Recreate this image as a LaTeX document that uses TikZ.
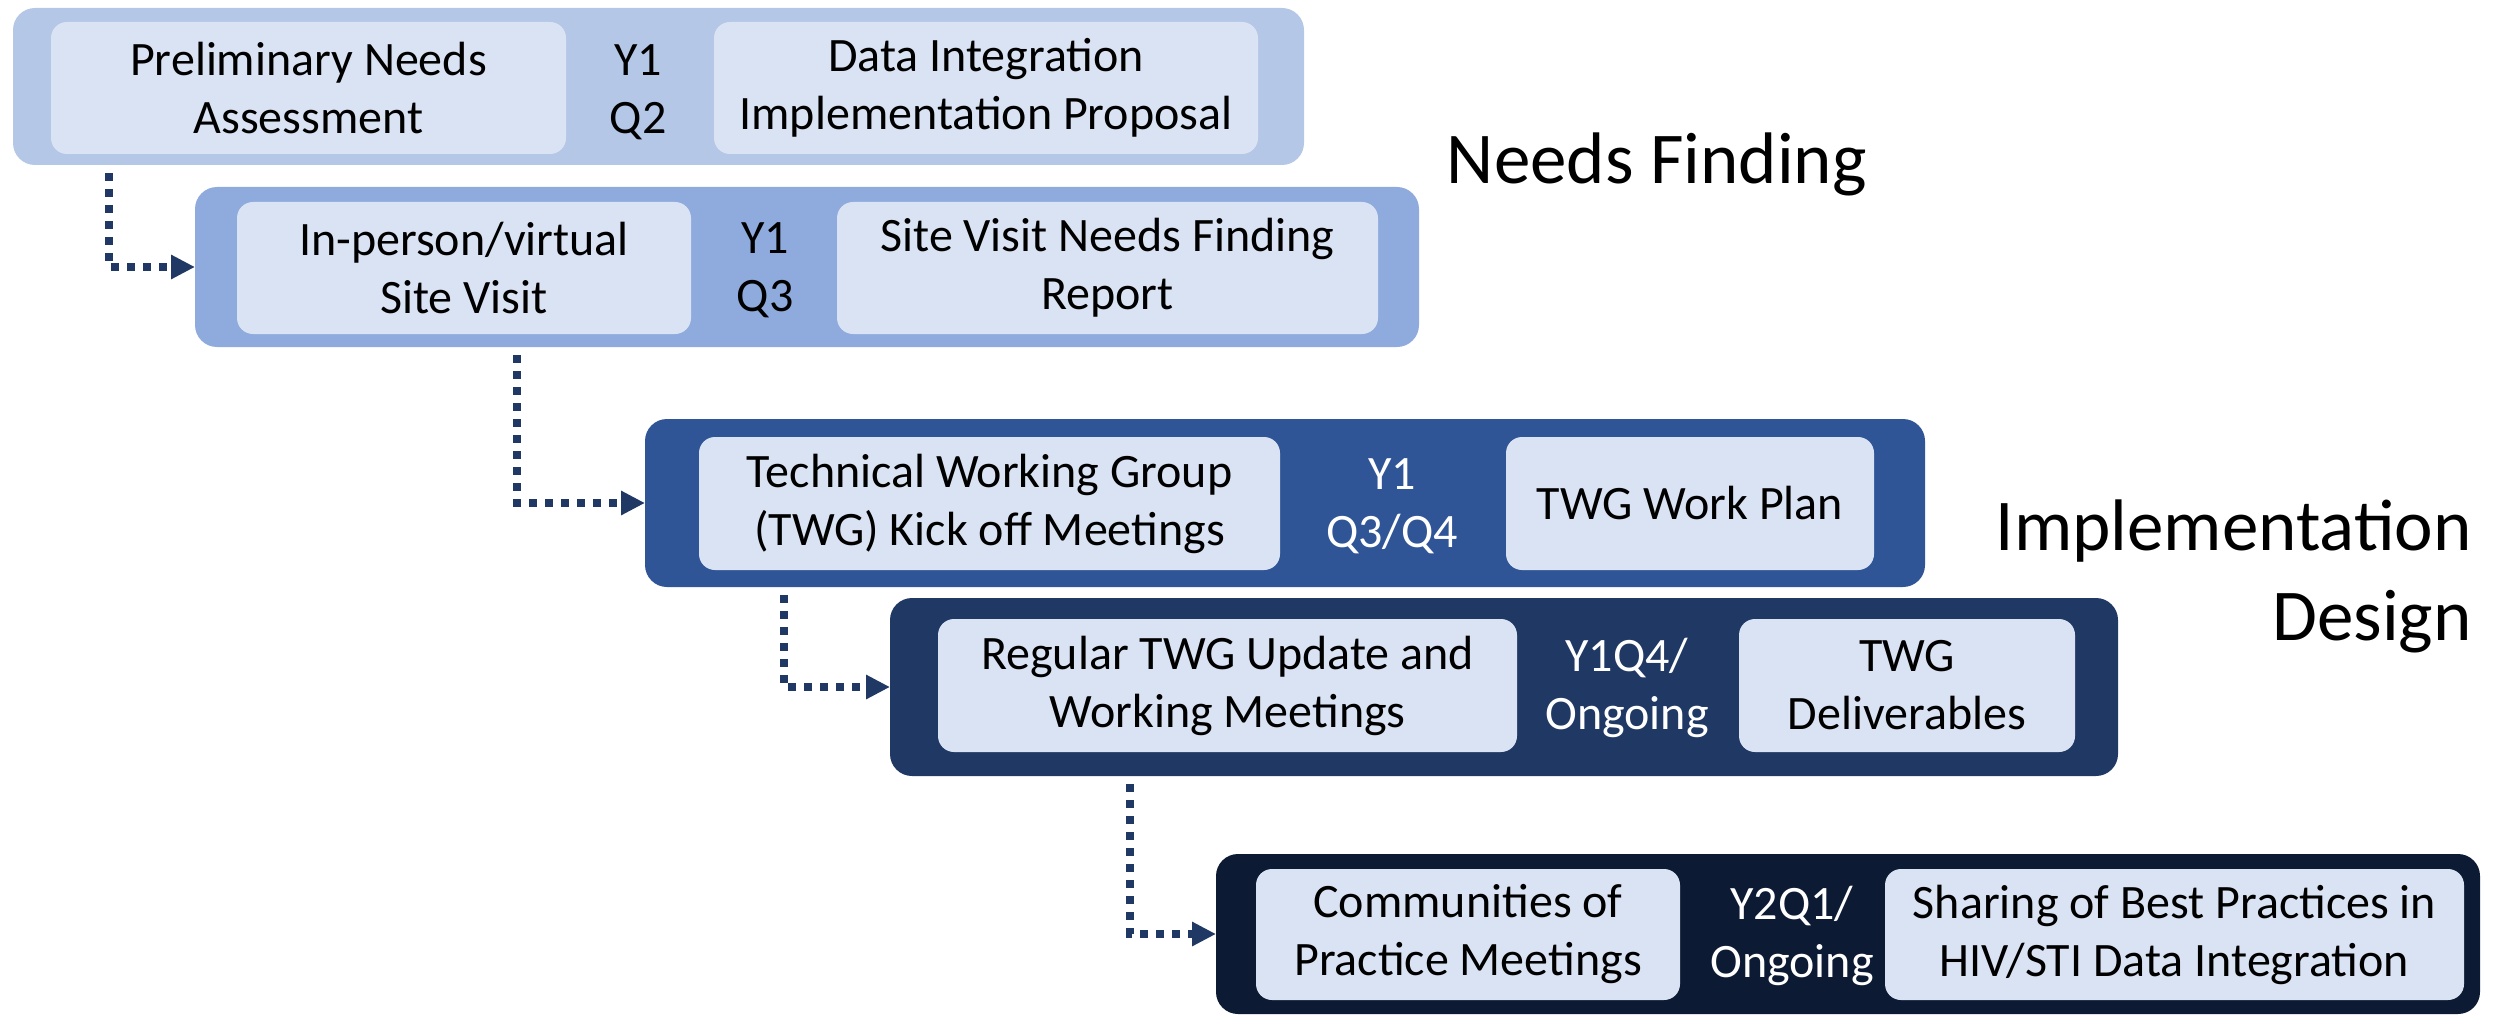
\documentclass[tikz,border=0pt]{standalone}
\usepackage{fontspec}
\setmainfont{Carlito}
\usetikzlibrary{fit,arrows.meta}
\definecolor{cA}{HTML}{B4C7E7}
\definecolor{cB}{HTML}{8FAADC}
\definecolor{cC}{HTML}{2F5597}
\definecolor{cD}{HTML}{203864}
\definecolor{cE}{HTML}{0C1A33}
\definecolor{cIn}{HTML}{DAE3F3}
\definecolor{cArr}{HTML}{203864}
\tikzset{
  outerbox/.style={rounded corners=11pt, inner sep=0pt, outer sep=0pt, draw=none},
  innerbox/.style={rounded corners=8pt, fill=cIn, inner sep=0pt, outer sep=0pt},
  boxtext/.style={align=center, inner sep=0pt, text=black,
     font=\fontsize{24pt}{29pt}\selectfont},
  qlabel/.style={align=center, inner sep=0pt, font=\fontsize{24pt}{29pt}\selectfont},
  biglabel/.style={align=right, inner sep=0pt, font=\fontsize{36.5pt}{45pt}\selectfont},
  conn/.style={draw=cArr, line width=4pt, dash pattern=on 4pt off 4pt,
     -{Triangle[length=12pt,width=11.5pt]}}
}
\begin{document}
\begin{tikzpicture}[x=0.5pt,y=-0.5pt]
\useasboundingbox (0,0) rectangle (2509,1016);
% box 1
\node[outerbox, fill=cA, fit={(13,8) (1304,165)}] (b1) {};
\node[innerbox, fit={(51,22) (566,154)}] (b1l) {};
\node[boxtext] (b1lt) at (b1l.center) {Preliminary Needs\\Assessment};
\node[qlabel] (b1q) at (638,92) {Y1\\Q2};
\node[innerbox, fit={(714,22) (1258,154)}] (b1r) {};
\node[boxtext] (b1rt) at (b1r.center) {Data Integration\\Implementation Proposal};
% box 2
\node[outerbox, fill=cB, fit={(195,187) (1419,347)}] (b2) {};
\node[innerbox, fit={(237,202) (691,334)}] (b2l) {};
\node[boxtext] (b2lt) at (b2l.center) {In-person/virtual\\Site Visit};
\node[qlabel] (b2q) at (765,270) {Y1\\Q3};
\node[innerbox, fit={(837,202) (1378,334)}] (b2r) {};
\node[boxtext] (b2rt) at (b2r.center) {Site Visit Needs Finding\\Report};
% box 3
\node[outerbox, fill=cC, fit={(645,419) (1925,587)}] (b3) {};
\node[innerbox, fit={(699,437) (1280,570)}] (b3l) {};
\node[boxtext] (b3lt) at (b3l.center) {Technical Working Group\\(TWG) Kick off Meetings};
\node[qlabel, text=white] (b3q) at (1392,506) {Y1\\Q3/Q4};
\node[innerbox, fit={(1506,437) (1874,570)}] (b3r) {};
\node[boxtext] (b3rt) at (b3r.center) {TWG Work Plan};
% box 4
\node[outerbox, fill=cD, fit={(890,598) (2118,776)}] (b4) {};
\node[innerbox, fit={(938,619) (1517,752)}] (b4l) {};
\node[boxtext] (b4lt) at (b4l.center) {Regular TWG Update and\\Working Meetings};
\node[qlabel, text=white] (b4q) at (1627,688) {Y1Q4/\\Ongoing};
\node[innerbox, fit={(1739,619) (2075,752)}] (b4r) {};
\node[boxtext] (b4rt) at (b4r.center) {TWG\\Deliverables};
% box 5
\node[outerbox, fill=cE, fit={(1216,854) (2480,1014)}] (b5) {};
\node[innerbox, fit={(1256,869) (1680,1000)}] (b5l) {};
\node[boxtext] (b5lt) at (b5l.center) {Communities of\\Practice Meetings};
\node[qlabel, text=white] (b5q) at (1792,936) {Y2Q1/\\Ongoing};
\node[innerbox, fit={(1885,869) (2464,1000)}] (b5r) {};
\node[boxtext] (b5rt) at (b5r.center) {Sharing of Best Practices in\\HIV/STI Data Integration};
% labels
\node[biglabel, anchor=east] (lab1) at (1867,164) {Needs Finding};
\node[biglabel, anchor=east] (lab2) at (2472,576) {Implementation\\Design};
% connectors
\draw[conn] ([xshift=48pt,yshift=-4pt]b1.south west) |- (b2.west);
\draw[conn] ([xshift=161pt,yshift=-4pt]b2.south west) |- (b3.west);
\draw[conn] ([xshift=69.5pt,yshift=-4pt]b3.south west) |- (b4.west);
\draw[conn] ([xshift=120pt,yshift=-4pt]b4.south west) |- (b5.west);
\end{tikzpicture}
\end{document}
